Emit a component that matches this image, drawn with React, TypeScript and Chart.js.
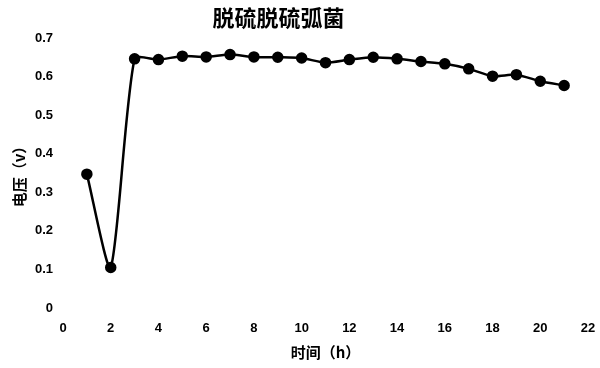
import React, { useEffect, useRef } from "react";
import { Chart, registerables } from "chart.js";

Chart.register(...registerables);

const titleText = "脱硫脱硫弧菌";
const xTitle = "时间（h）";
const yTitle = "电压（v）";

const hours = [1, 2, 3, 4, 5, 6, 7, 8, 9, 10, 11, 12, 13, 14, 15, 16, 17, 18, 19, 20, 21];
const voltage = [
  0.347, 0.105, 0.646, 0.644, 0.653, 0.651, 0.657, 0.651, 0.65, 0.648, 0.636,
  0.644, 0.65, 0.646, 0.639, 0.633, 0.62, 0.601, 0.605, 0.588, 0.577,
];
const xTicks = [0, 2, 4, 6, 8, 10, 12, 14, 16, 18, 20, 22];
const yTicks = [0, 0.1, 0.2, 0.3, 0.4, 0.5, 0.6, 0.7];

const FONT = "'Liberation Sans', 'Noto Sans CJK SC', sans-serif";
const CJK = "'Noto Sans CJK SC', 'Liberation Sans', sans-serif";

const titlePlugin = {
  id: "customTitle",
  afterDraw(chart: any) {
    const ctx = chart.ctx;
    ctx.save();
    ctx.font = `bold 22px ${CJK}`;
    ctx.fillStyle = "#000";
    ctx.textAlign = "center";
    ctx.textBaseline = "middle";
    ctx.fillText(titleText, chart.width * 0.464, 17.5);
    ctx.restore();
  },
};

export default function App() {
  const ref = useRef<HTMLCanvasElement | null>(null);
  useEffect(() => {
    if (!ref.current) return;
    const chart = new Chart(ref.current, {
      type: "line",
      data: {
        datasets: [
          {
            data: hours.map((h, i) => ({ x: h, y: voltage[i] })),
            borderColor: "#000",
            backgroundColor: "#000",
            borderWidth: 2.5,
            pointRadius: 4.5,
            pointStyle: "circle",
            pointBackgroundColor: "#000",
            pointBorderColor: "#000",
            tension: 0.22,
            fill: false,
          },
        ],
      },
      options: {
        animation: false,
        responsive: true,
        maintainAspectRatio: false,
        layout: { padding: { top: 38, right: 12, bottom: 0, left: 0 } },
        plugins: {
          legend: { display: false },
          title: { display: false },
          tooltip: { enabled: false },
        },
        scales: {
          x: {
            type: "linear",
            min: 0,
            max: 22,
            grid: { display: false, drawTicks: false },
            border: { display: false },
            afterBuildTicks: (s: any) => {
              s.ticks = xTicks.map((v) => ({ value: v }));
            },
            afterFit: (s: any) => {
              s.height = 60;
              s.paddingRight = 0;
              s.paddingLeft = 0;
            },
            ticks: {
              padding: 13,
              color: "#000",
              font: { family: FONT, size: 13, weight: "bold" },
            },
            title: {
              display: true,
              text: xTitle,
              color: "#000",
              padding: { top: 0, bottom: 7 },
              font: { family: CJK, size: 15, weight: "bold" },
            },
          },
          y: {
            type: "linear",
            min: 0,
            max: 0.7,
            grid: { display: false, drawTicks: false },
            border: { display: false },
            afterBuildTicks: (s: any) => {
              s.ticks = yTicks.map((v) => ({ value: v }));
            },
            afterFit: (s: any) => {
              s.width = 63;
            },
            ticks: {
              padding: 10,
              color: "#000",
              font: { family: FONT, size: 13, weight: "bold" },
              callback: (v: any) => String(Math.round(Number(v) * 10) / 10),
            },
            title: {
              display: true,
              text: yTitle,
              color: "#000",
              padding: { top: 10, bottom: 0 },
              font: { family: CJK, size: 15, weight: "bold" },
            },
          },
        },
      },
      plugins: [titlePlugin],
    } as any);
    return () => chart.destroy();
  }, []);
  return (
    <div style={{ position: "fixed", left: 0, top: 0, width: 600, height: 368, background: "#fff" }}>
      <canvas ref={ref} />
    </div>
  );
}
